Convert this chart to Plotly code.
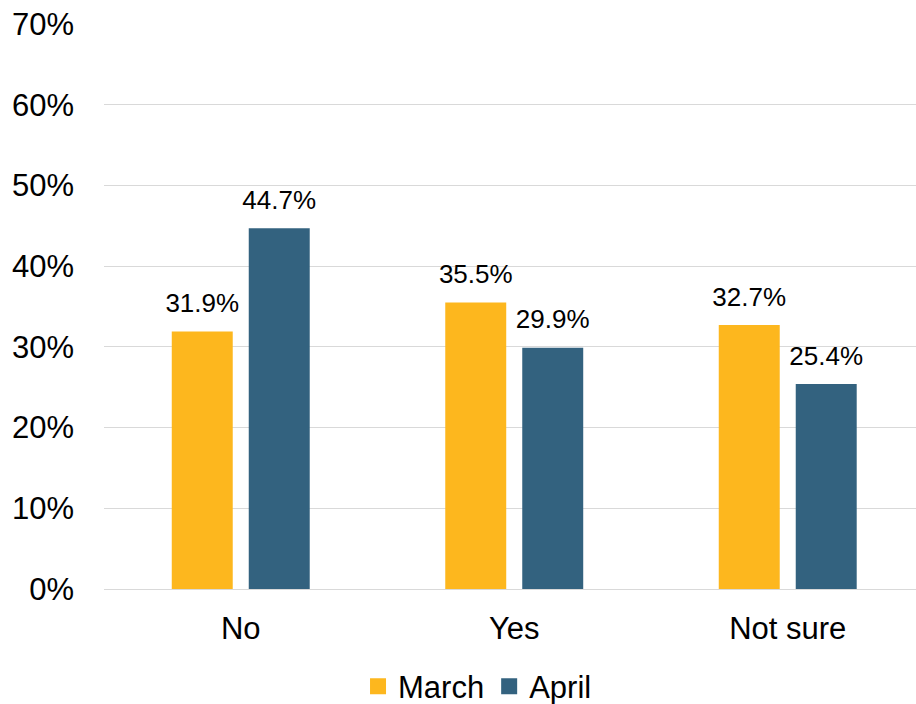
import plotly.graph_objects as go

categories = ["No", "Yes", "Not sure"]
series_names = ["March", "April"]
march = [31.9, 35.5, 32.7]
april = [44.7, 29.9, 25.4]
colors = ["#FDB71E", "#33627F"]
y_ticks = [0, 10, 20, 30, 40, 50, 60, 70]
y_tick_labels = [f"{v}%" for v in y_ticks]

FONT = "Liberation Sans, Arial, sans-serif"

fig = go.Figure()
for name, vals, col in zip(series_names, [march, april], colors):
    fig.add_trace(go.Bar(
        name=name, x=categories, y=vals, offsetgroup=name, showlegend=False,
        marker=dict(color=col, line=dict(width=0)), hoverinfo="x+y",
    ))
for name, vals in zip(series_names, [march, april]):
    fig.add_trace(go.Scatter(
        x=categories, y=vals, offsetgroup=name, mode="markers+text", showlegend=False,
        marker=dict(size=19, opacity=0), hoverinfo="skip",
        text=[f"{v:.1f}%" for v in vals], textposition="top center",
        textfont=dict(size=26, color="#000000", family=FONT), cliponaxis=False,
    ))
for name, col in zip(series_names, colors):
    fig.add_trace(go.Scatter(
        x=[None], y=[None], name=name, mode="markers",
        marker=dict(symbol="square", size=17, color=col),
    ))

fig.update_layout(
    width=916, height=704,
    margin=dict(l=104, r=0, t=24, b=115, autoexpand=False),
    paper_bgcolor="white", plot_bgcolor="white",
    barmode="group", bargap=0.437, bargroupgap=0.208,
    scattermode="group", scattergap=0.437,
    font=dict(family=FONT, size=31, color="#000000"),
    showlegend=True,
    legend=dict(orientation="h", x=0.46, xanchor="center", y=-0.125, yanchor="top",
                font=dict(size=31, family=FONT), traceorder="normal",
                itemwidth=30, itemsizing="trace"),
)
fig.update_xaxes(
    range=[-0.5, 2.469],
    showline=True, linecolor="#D9D9D9", linewidth=1, ticks="", automargin=False,
    tickfont=dict(size=31, family=FONT), ticklabelstandoff=12,
)
fig.update_yaxes(
    range=[0, 70], tickvals=y_ticks, ticktext=y_tick_labels, automargin=False,
    showgrid=True, gridcolor="#D9D9D9", gridwidth=1,
    zeroline=True, zerolinecolor="#D9D9D9", zerolinewidth=1,
    tickfont=dict(size=31, family=FONT), ticks="", ticklabelstandoff=29,
)

fig.write_html("out.html", config={"displayModeBar": False},
               post_script="document.body.style.margin='0';")
